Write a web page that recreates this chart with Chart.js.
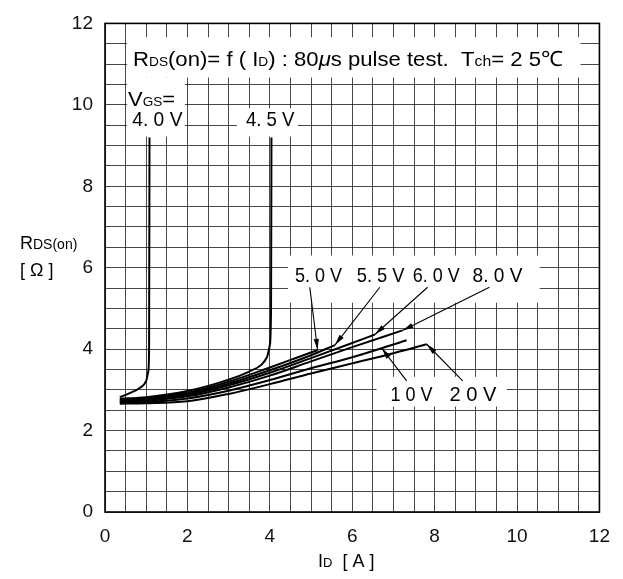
<!DOCTYPE html>
<html>
<head>
<meta charset="utf-8">
<script src="https://cdn.jsdelivr.net/npm/chart.js@4.4.1/dist/chart.umd.min.js"></script>
<style>
  html, body { margin: 0; padding: 0; background: #fff; }
  canvas { display: block; }
</style>
</head>
<body>
<canvas id="c" width="623" height="579" style="width:623px;height:579px"></canvas>
<script>
// Axis ranges and labelled ticks
const xLabelTicks = [0, 2, 4, 6, 8, 10, 12];
const yLabelTicks = [0, 2, 4, 6, 8, 10, 12];

// RDS(on) [ohm] versus ID [A] for each gate voltage
const vgs40Id = [0.36, 0.6, 0.85, 1.0, 1.05, 1.07, 1.08];
const vgs40R  = [2.82, 2.92, 3.05, 3.22, 3.45, 4.0, 9.2];

const vgs45Id = [0.36, 1, 2, 3, 3.5, 3.8, 3.93, 4.0, 4.03, 4.04];
const vgs45R  = [2.78, 2.82, 2.97, 3.25, 3.45, 3.62, 3.8, 4.1, 5.0, 9.2];

const vgs50Id = [0.36, 1, 2, 3, 4, 4.6, 5.17];
const vgs50R  = [2.76, 2.8, 2.93, 3.2, 3.55, 3.77, 3.98];

const vgs55Id = [0.36, 1, 2, 3, 4, 5, 5.58];
const vgs55R  = [2.74, 2.78, 2.9, 3.15, 3.48, 3.85, 4.1];

const vgs60Id = [0.36, 1, 2, 3, 4, 5, 6, 6.55];
const vgs60R  = [2.72, 2.76, 2.87, 3.11, 3.42, 3.78, 4.15, 4.36];

const vgs80Id = [0.36, 1, 2, 3, 4, 5, 6, 7.22];
const vgs80R  = [2.7, 2.73, 2.84, 3.06, 3.35, 3.7, 4.05, 4.46];

const vgs10Id = [0.36, 1, 2, 3, 4, 5, 6, 7.32];
const vgs10R  = [2.68, 2.7, 2.79, 2.98, 3.24, 3.53, 3.8, 4.22];

const vgs20Id = [0.36, 1, 2, 3, 4, 5, 6, 7, 7.81];
const vgs20R  = [2.66, 2.67, 2.72, 2.9, 3.14, 3.4, 3.65, 3.9, 4.12];

const curves = [
  { name: '4.0 V', id: vgs40Id, r: vgs40R },
  { name: '4.5 V', id: vgs45Id, r: vgs45R },
  { name: '5.0 V', id: vgs50Id, r: vgs50R },
  { name: '5.5 V', id: vgs55Id, r: vgs55R },
  { name: '6.0 V', id: vgs60Id, r: vgs60R },
  { name: '8.0 V', id: vgs80Id, r: vgs80R },
  { name: '10 V',  id: vgs10Id, r: vgs10R },
  { name: '20 V',  id: vgs20Id, r: vgs20R }
];

const FONT = '"Liberation Sans", Arial, Helvetica, sans-serif';

// White label panels (data units: x0, x1, r0, r1)
const panels = [
  [0.53, 11.54, 10.67, 11.66],
  [0.53, 1.94, 9.22, 10.67],
  [3.2, 4.68, 9.22, 9.92],
  [4.44, 10.55, 5.14, 6.3],
  [6.59, 9.75, 2.59, 3.32]
];

// Curve labels: text, left x, baseline r, width in x units
const curveLabels = [
  ['4. 0 V', 0.66, 9.48, 1.22],
  ['4. 5 V', 3.42, 9.48, 1.18],
  ['5. 0 V', 4.61, 5.64, 1.14],
  ['5. 5 V', 6.11, 5.64, 1.16],
  ['6. 0 V', 7.47, 5.64, 1.14],
  ['8. 0 V', 8.92, 5.64, 1.21],
  ['1 0 V',  6.93, 2.73, 1.02],
  ['2 0 V',  8.36, 2.73, 1.14]
];

// Leader arrows: from (x, r) to tip (x, r)
const leaders = [
  [4.97, 5.52, 5.16, 3.98],
  [6.67, 5.52, 5.58, 4.10],
  [7.83, 5.52, 6.55, 4.36],
  [9.33, 5.52, 7.22, 4.46],
  [7.32, 3.22, 6.72, 4.02],
  [8.68, 3.22, 7.81, 4.12]
];

function fontStr(p) {
  return (p.italic ? 'italic ' : '') + p.size + 'px ' + FONT;
}

// Draws a run of mixed-size text starting at (x, baseline), squeezed to width w
function drawRich(ctx, parts, x, baseline, w) {
  let total = 0;
  for (const p of parts) { ctx.font = fontStr(p); total += ctx.measureText(p.t).width; }
  const sx = w ? w / total : 1;
  ctx.save();
  ctx.translate(x, baseline);
  ctx.scale(sx, 1);
  ctx.fillStyle = '#000';
  ctx.textBaseline = 'alphabetic';
  ctx.textAlign = 'left';
  let cx = 0;
  for (const p of parts) {
    ctx.font = fontStr(p);
    ctx.fillText(p.t, cx, p.dy || 0);
    cx += ctx.measureText(p.t).width;
  }
  ctx.restore();
}

const frameAndPanels = {
  id: 'frameAndPanels',
  beforeDatasetsDraw(chart) {
    const { ctx, scales: { x, y } } = chart;
    ctx.save();
    ctx.fillStyle = '#fff';
    for (const [x0, x1, r0, r1] of panels) {
      const px0 = x.getPixelForValue(x0), px1 = x.getPixelForValue(x1);
      const py0 = y.getPixelForValue(r1), py1 = y.getPixelForValue(r0);
      ctx.fillRect(px0, py0, px1 - px0, py1 - py0);
    }
    ctx.restore();
  },
  afterDatasetsDraw(chart) {
    const { ctx, chartArea: a, scales: { x, y } } = chart;
    const w = (x0, x1) => x.getPixelForValue(x1) - x.getPixelForValue(x0);
    ctx.save();
    // frame
    ctx.strokeStyle = '#000';
    ctx.lineWidth = 1.6;
    ctx.strokeRect(a.left, a.top, a.right - a.left, a.bottom - a.top);

    // heading inside the plot
    const L = 21, S = 13;
    drawRich(ctx, [
      { t: 'R', size: L }, { t: 'DS', size: S },
      { t: '(on)= f ( I', size: L }, { t: 'D', size: S },
      { t: ') : 80', size: L }, { t: 'μ', size: L, italic: true },
      { t: 's pulse test.  T', size: L }, { t: 'ch', size: 15 },
      { t: '= 2 5℃', size: L }
    ], x.getPixelForValue(0.68), y.getPixelForValue(10.96), w(0.68, 11.12));

    drawRich(ctx, [
      { t: 'V', size: L }, { t: 'GS', size: S }, { t: '=', size: L }
    ], x.getPixelForValue(0.56), y.getPixelForValue(9.98), w(0.56, 1.7));

    for (const [t, lx, br, tw] of curveLabels) {
      drawRich(ctx, [{ t, size: L }], x.getPixelForValue(lx), y.getPixelForValue(br), w(lx, lx + tw));
    }

    // leader lines with arrow heads
    ctx.strokeStyle = '#000';
    ctx.fillStyle = '#000';
    ctx.lineWidth = 1.1;
    for (const [fx, fr, tx, tr] of leaders) {
      const x0 = x.getPixelForValue(fx), y0 = y.getPixelForValue(fr);
      const x1 = x.getPixelForValue(tx), y1 = y.getPixelForValue(tr);
      ctx.beginPath(); ctx.moveTo(x0, y0); ctx.lineTo(x1, y1); ctx.stroke();
      const ang = Math.atan2(y1 - y0, x1 - x0);
      const len = 11, hw = 2.6;
      ctx.beginPath();
      ctx.moveTo(x1, y1);
      ctx.lineTo(x1 - len * Math.cos(ang) + hw * Math.sin(ang), y1 - len * Math.sin(ang) - hw * Math.cos(ang));
      ctx.lineTo(x1 - len * Math.cos(ang) - hw * Math.sin(ang), y1 - len * Math.sin(ang) + hw * Math.cos(ang));
      ctx.closePath();
      ctx.fill();
    }

    // axis titles
    drawRich(ctx, [{ t: 'R', size: 18 }, { t: 'DS(on)', size: 14 }], 20, 249);
    drawRich(ctx, [{ t: '[ Ω ]', size: 18 }], 20, 276);
    drawRich(ctx, [{ t: 'I', size: 18 }, { t: 'D', size: 13 }, { t: '  [ A ]', size: 18 }], 318, 567);
    ctx.restore();
  }
};

const datasets = curves.map(c => ({
  label: c.name,
  data: c.id.map((v, i) => ({ x: v, y: c.r[i] })),
  borderColor: '#000',
  borderWidth: 2,
  pointRadius: 0,
  fill: false,
  cubicInterpolationMode: 'monotone'
}));

function tickLabel(list) {
  return v => (list.includes(v) ? String(v) : '');
}

new Chart(document.getElementById('c'), {
  type: 'line',
  data: { datasets },
  options: {
    responsive: false,
    animation: false,
    devicePixelRatio: 1,
    layout: { padding: { top: 17, right: 23, left: 0, bottom: 0 } },
    plugins: { legend: { display: false }, tooltip: { enabled: false } },
    scales: {
      x: {
        type: 'linear', min: 0, max: 12,
        afterFit: s => { s.height = 67; },
        ticks: {
          stepSize: 0.5, autoSkip: false, maxRotation: 0, padding: 13,
          color: '#111', font: { family: FONT, size: 19 },
          callback: tickLabel(xLabelTicks)
        },
        grid: { color: 'rgba(0,0,0,0.72)', lineWidth: 1, drawTicks: false },
        border: { display: false }
      },
      y: {
        type: 'linear', min: 0, max: 12,
        afterFit: s => { s.width = 105; },
        ticks: {
          stepSize: 0.5, autoSkip: false, padding: 12,
          color: '#111', font: { family: FONT, size: 19 },
          callback: tickLabel(yLabelTicks)
        },
        grid: { color: 'rgba(0,0,0,0.72)', lineWidth: 1, drawTicks: false },
        border: { display: false }
      }
    }
  },
  plugins: [frameAndPanels]
});
</script>
</body>
</html>
